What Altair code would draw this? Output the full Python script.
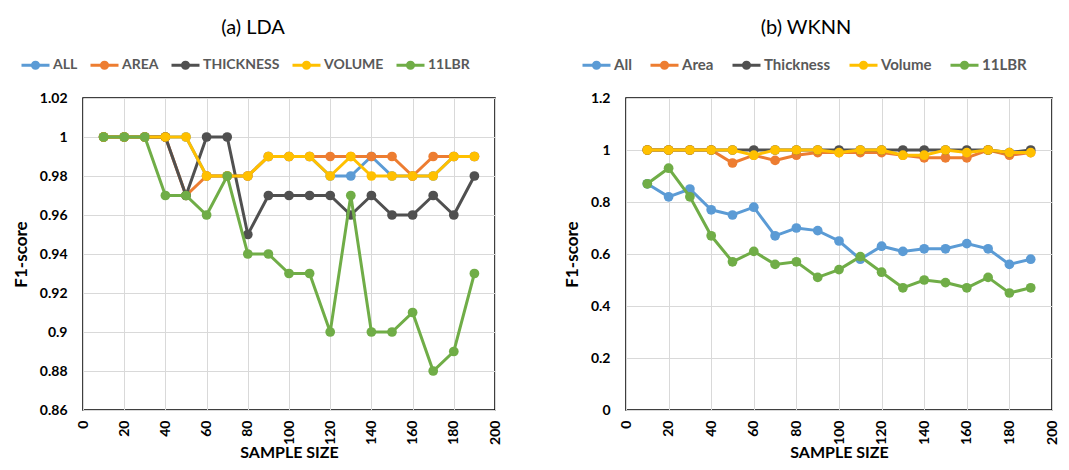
import altair as alt
import pandas as pd

sample_size = [10, 20, 30, 40, 50, 60, 70, 80, 90, 100, 110, 120, 130, 140, 150, 160, 170, 180, 190]

# (a) LDA
lda_series = ["ALL", "AREA", "THICKNESS", "VOLUME", "11LBR"]
lda_all = [1, 1, 1, 1, 1, 0.98, 0.98, 0.98, 0.99, 0.99, 0.99, 0.98, 0.98, 0.99, 0.98, 0.98, 0.98, 0.99, 0.99]
lda_area = [1, 1, 1, 1, 0.97, 0.98, 0.98, 0.98, 0.99, 0.99, 0.99, 0.99, 0.99, 0.99, 0.99, 0.98, 0.99, 0.99, 0.99]
lda_thickness = [1, 1, 1, 1, 0.97, 1, 1, 0.95, 0.97, 0.97, 0.97, 0.97, 0.96, 0.97, 0.96, 0.96, 0.97, 0.96, 0.98]
lda_volume = [1, 1, 1, 1, 1, 0.98, 0.98, 0.98, 0.99, 0.99, 0.99, 0.98, 0.99, 0.98, 0.98, 0.98, 0.98, 0.99, 0.99]
lda_11lbr = [1, 1, 1, 0.97, 0.97, 0.96, 0.98, 0.94, 0.94, 0.93, 0.93, 0.90, 0.97, 0.90, 0.90, 0.91, 0.88, 0.89, 0.93]

# (b) WKNN
wknn_series = ["All", "Area", "Thickness", "Volume", "11LBR"]
wknn_all = [0.87, 0.82, 0.85, 0.77, 0.75, 0.78, 0.67, 0.70, 0.69, 0.65, 0.58, 0.63, 0.61, 0.62, 0.62, 0.64, 0.62, 0.56, 0.58]
wknn_area = [1, 1, 1, 1, 0.95, 0.98, 0.96, 0.98, 0.99, 0.99, 0.99, 0.99, 0.98, 0.97, 0.97, 0.97, 1, 0.98, 0.99]
wknn_thickness = [1, 1, 1, 1, 1, 1, 1, 1, 1, 1, 1, 1, 1, 1, 1, 1, 1, 0.99, 1]
wknn_volume = [1, 1, 1, 1, 1, 0.98, 1, 1, 1, 0.99, 1, 1, 0.98, 0.98, 1, 0.99, 1, 0.99, 0.99]
wknn_11lbr = [0.87, 0.93, 0.82, 0.67, 0.57, 0.61, 0.56, 0.57, 0.51, 0.54, 0.59, 0.53, 0.47, 0.50, 0.49, 0.47, 0.51, 0.45, 0.47]

x_ticks = [0, 20, 40, 60, 80, 100, 120, 140, 160, 180, 200]
lda_y_ticks = [0.86, 0.88, 0.90, 0.92, 0.94, 0.96, 0.98, 1.00, 1.02]
wknn_y_ticks = [0, 0.2, 0.4, 0.6, 0.8, 1.0, 1.2]

colors = ["#5B9BD5", "#ED7D31", "#505050", "#FFC000", "#70AD47"]

FONT = "Lato"
SYMBOL = "M-1,0L1,0M0.22,0A0.22,0.22,0,1,1,-0.22,0A0.22,0.22,0,1,1,0.22,0Z"


def make_df(series, values):
    rows = []
    for name, vals in zip(series, values):
        for s, v in zip(sample_size, vals):
            rows.append({"size": s, "f1": v, "series": name})
    return pd.DataFrame(rows)


def panel(df, series, ydomain, yticks, title, title_dx, legend_x, legend_font, legend_gap, w, h):
    color = alt.Color(
        "series:N",
        scale=alt.Scale(domain=series, range=colors),
        legend=alt.Legend(
            title=None,
            orient="none",
            direction="horizontal",
            legendX=legend_x,
            legendY=-48.5,
            symbolType=SYMBOL,
            symbolSize=784,
            symbolStrokeWidth=3,
            labelFont=FONT,
            labelFontSize=legend_font,
            labelFontWeight="bold",
            labelColor="#595959",
            labelOffset=2,
            columnPadding=legend_gap,
        ),
    )
    x = alt.X(
        "size:Q",
        scale=alt.Scale(domain=[0, 200], nice=False),
        axis=alt.Axis(
            values=x_ticks,
            labelAngle=270,
            labelPadding=10,
            title="SAMPLE SIZE",
            titlePadding=0,
            titleFontSize=16,
        ),
    )
    y = alt.Y(
        "f1:Q",
        scale=alt.Scale(domain=ydomain, nice=False, zero=False),
        axis=alt.Axis(
            values=yticks,
            labelExpr="format(datum.value, '~g')",
            labelPadding=16,
            title="F1-score",
            titlePadding=9,
        ),
    )
    layers = []
    for s in series:
        base = alt.Chart(df).transform_filter(alt.datum.series == s)
        layers.append(base.mark_line(strokeWidth=3).encode(x=x, y=y, color=color))
        layers.append(
            base.mark_point(filled=True, size=95, opacity=1).encode(x=x, y=y, color=color)
        )
    return alt.layer(*layers).properties(
        width=w,
        height=h,
        title=alt.TitleParams(
            title, font=FONT, fontSize=20, fontWeight="normal", color="#000000",
            anchor="middle", offset=12, dx=title_dx,
        ),
    )


lda_df = make_df(lda_series, [lda_all, lda_area, lda_thickness, lda_volume, lda_11lbr])
wknn_df = make_df(wknn_series, [wknn_all, wknn_area, wknn_thickness, wknn_volume, wknn_11lbr])

left = panel(lda_df, lda_series, [0.86, 1.02], lda_y_ticks, "(a) LDA", -36, -63, 14, 6, 412, 312)
right = panel(wknn_df, wknn_series, [0, 1.2], wknn_y_ticks, "(b) WKNN", -33, -45, 15, 12, 426, 312)

chart = (
    alt.hconcat(left, right, spacing=59)
    .resolve_scale(color="independent")
    .resolve_legend(color="independent")
    .properties(padding={"left": 3, "top": 8, "right": 0, "bottom": 0})
    .configure_view(stroke="#000000", strokeWidth=1.5)
    .configure_axis(
        domain=False,
        ticks=False,
        grid=True,
        gridColor="#d9d9d9",
        gridWidth=1,
        labelFont=FONT,
        labelFontSize=14,
        labelFontWeight="bold",
        labelColor="#000000",
        titleFont=FONT,
        titleFontSize=17,
        titleFontWeight="bold",
        titleColor="#000000",
    )
)

chart.save("out.html", embed_options={"renderer": "svg", "actions": False})
